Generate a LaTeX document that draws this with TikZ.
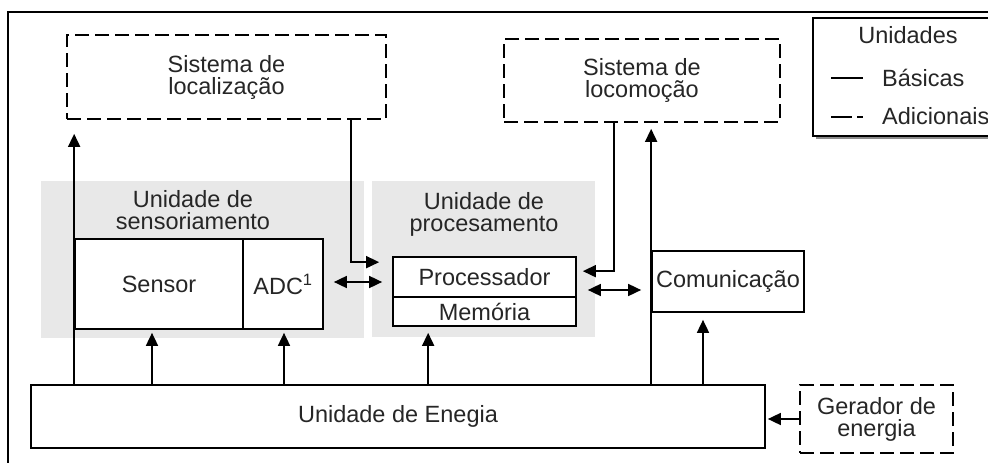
\documentclass[tikz,border=0pt]{standalone}
\usepackage{fontspec}
\setmainfont{Liberation Sans}
\usetikzlibrary{arrows.meta,calc}

\begin{document}
\begin{tikzpicture}[x=1pt,y=-1pt,
  every node/.style={font=\fontsize{23.5}{22}\selectfont, text=black!85, inner sep=0pt, align=center},
  unitbox/.style={draw, line width=1.7pt, fill=white},
  extrabox/.style={draw, line width=1.7pt, fill=white, dash pattern=on 14pt off 6pt},
  groupbg/.style={fill=black!9, draw=none},
  link/.style={line width=1.7pt, -{Triangle[length=13pt,width=12pt]}},
  dlink/.style={line width=1.7pt, {Triangle[length=13pt,width=12pt]}-{Triangle[length=13pt,width=12pt]}}
]
\useasboundingbox (0,0) rectangle (988,463);
\clip (0,0) rectangle (988,463);

% outer frame (only left and top edges show)
\draw[line width=2.6pt] (8,470) -- (8,12) -- (1000,12);

% shaded groups
\node[groupbg, minimum width=323pt, minimum height=157pt] (sensgrp) at (202.5,259.5) {};
\node[groupbg, minimum width=223pt, minimum height=156pt] (procgrp) at (483.5,259) {};
\node (senslbl) at (193,210) {Unidade de\\sensoriamento};
\node (proclbl) at (484,214) {Unidade de\\procesamento};

% optional systems
\node[extrabox, minimum width=319pt, minimum height=84pt] (loc) at (226.5,77) {Sistema de\\localização};
\node[extrabox, minimum width=276pt, minimum height=83pt] (locom) at (642,80.5) {Sistema de\\locomoção};
\node[extrabox, minimum width=153pt, minimum height=68pt] (ger) at (876.5,419) {Gerador de\\energia};

% basic units
\node[unitbox, minimum width=168pt, minimum height=90pt] (sensor) at (159,284) {Sensor};
\node[unitbox, minimum width=80pt, minimum height=90pt] (adc) at (283,284) {ADC\textsuperscript{1}};
\node[unitbox, minimum width=183pt, minimum height=40pt] (proc) at (484.5,277) {Processador};
\node[unitbox, minimum width=183pt, minimum height=29pt] (mem) at (484.5,311.5) {Memória};
\node[unitbox, minimum width=152pt, minimum height=61pt] (com) at (728,281.5) {Comunicação};
\node[unitbox, minimum width=734pt, minimum height=63pt] (energy) at (398,416.5) {Unidade de Enegia};

% legend
\fill[black!45] (816,21) rectangle (1010,139);
\node[unitbox, minimum width=200pt, minimum height=118pt] (legend) at (913,77) {};
\node[anchor=base] (legtitle) at (908,43) {Unidades};
\node[anchor=base west] (legbasic) at (882,86) {Básicas};
\node[anchor=base west] (legextra) at (882,124) {Adicionais};
\coordinate (lbA) at (831,78);
\coordinate (lbB) at (863,78);
\draw[line width=1.7pt] (lbA) -- (lbB);
\coordinate (leA) at (831,117);
\coordinate (leB) at (852,117);
\coordinate (leC) at (857,117);
\coordinate (leD) at (863,117);
\draw[line width=1.7pt] (leA) -- (leB) (leC) -- (leD);

% connectors
\draw[link] (energy.north -| sensor.west) -- ($(loc.south -| sensor.west)+(0,14)$);
\draw[link] ($(loc.south east)+(-36,0)$) |- ($(proc.north west)+(-13,6)$);
\draw[dlink] ($(adc.east)+(10,-2)$) -- ($(proc.west |- adc.east)+(-10,-2)$);
\draw[link] ($(locom.south west)+(111,0)$) |- ($(proc.north east)+(6,15)$);
\draw[dlink] ($(proc.east)+(11,13)$) -- ($(com.west)+(-10,8.5)$);
\draw[link] (energy.north -| com.west) -- ($(locom.south -| com.west)+(0,6)$);
\coordinate (comin) at ($(com.south)+(-25,0)$);
\draw[link] (energy.north -| comin) -- ($(comin)+(0,7)$);
\coordinate (sensin) at ($(sensor.south)+(-7,0)$);
\draw[link] (energy.north -| sensin) -- ($(sensin)+(0,3)$);
\coordinate (adcin) at ($(adc.south)+(1,0)$);
\draw[link] (energy.north -| adcin) -- ($(adcin)+(0,3)$);
\coordinate (memin) at ($(mem.south west)+(36,0)$);
\draw[link] (energy.north -| memin) -- ($(memin)+(0,6)$);
\draw[link] (ger.west) -- ($(energy.east |- ger.west)+(2,0)$);
\end{tikzpicture}
\end{document}
